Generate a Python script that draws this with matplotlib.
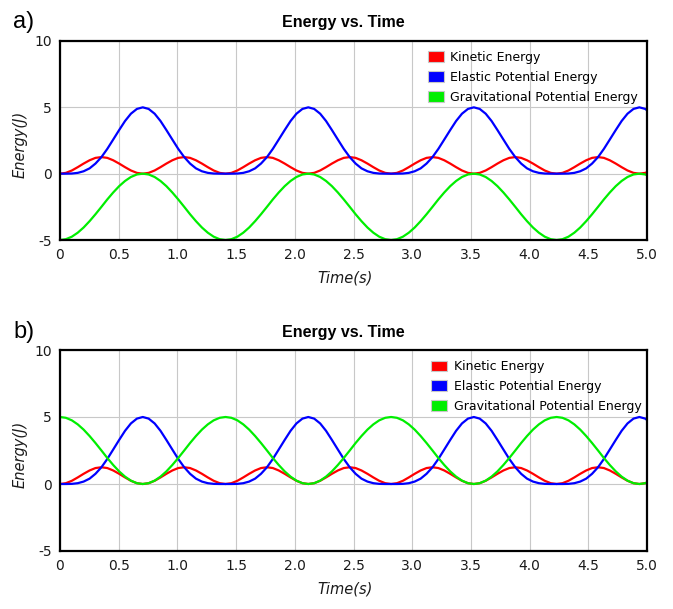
import matplotlib
matplotlib.use("Agg")
import matplotlib.pyplot as plt
from matplotlib.patches import Patch

# time samples (s)
time = [
    0.000, 0.050, 0.101, 0.151, 0.201, 0.252, 0.302, 0.353, 0.403, 0.453, 0.504, 0.554, 0.604, 0.655,
    0.705, 0.755, 0.806, 0.856, 0.906, 0.957, 1.007, 1.058, 1.108, 1.158, 1.209, 1.259, 1.309, 1.360,
    1.410, 1.460, 1.511, 1.561, 1.611, 1.662, 1.712, 1.763, 1.813, 1.863, 1.914, 1.964, 2.014, 2.065,
    2.115, 2.165, 2.216, 2.266, 2.316, 2.367, 2.417, 2.468, 2.518, 2.568, 2.619, 2.669, 2.719, 2.770,
    2.820, 2.870, 2.921, 2.971, 3.021, 3.072, 3.122, 3.173, 3.223, 3.273, 3.324, 3.374, 3.424, 3.475,
    3.525, 3.575, 3.626, 3.676, 3.726, 3.777, 3.827, 3.878, 3.928, 3.978, 4.029, 4.079, 4.129, 4.180,
    4.230, 4.280, 4.331, 4.381, 4.431, 4.482, 4.532, 4.583, 4.633, 4.683, 4.734, 4.784, 4.834, 4.885,
    4.935, 4.985, 5.036,
]

kinetic = [
    0.00, 0.06, 0.24, 0.49, 0.76, 1.01, 1.19, 1.25, 1.19, 1.01, 0.76, 0.49, 0.24, 0.06,
    0.00, 0.06, 0.24, 0.49, 0.76, 1.01, 1.19, 1.25, 1.19, 1.01, 0.76, 0.49, 0.24, 0.06,
    0.00, 0.06, 0.24, 0.49, 0.76, 1.01, 1.19, 1.25, 1.19, 1.01, 0.76, 0.49, 0.24, 0.06,
    0.00, 0.06, 0.24, 0.49, 0.76, 1.01, 1.19, 1.25, 1.19, 1.01, 0.76, 0.49, 0.24, 0.06,
    0.00, 0.06, 0.24, 0.49, 0.76, 1.01, 1.19, 1.25, 1.19, 1.01, 0.76, 0.49, 0.24, 0.06,
    0.00, 0.06, 0.24, 0.49, 0.76, 1.01, 1.19, 1.25, 1.19, 1.01, 0.76, 0.49, 0.24, 0.06,
    0.00, 0.06, 0.24, 0.49, 0.76, 1.01, 1.19, 1.25, 1.19, 1.01, 0.76, 0.49, 0.24, 0.06,
    0.00, 0.06, 0.24,
]

elastic = [
    0.00, 0.00, 0.01, 0.06, 0.18, 0.40, 0.76, 1.25, 1.87, 2.57, 3.29, 3.97, 4.52, 4.88,
    5.00, 4.88, 4.52, 3.97, 3.29, 2.57, 1.87, 1.25, 0.76, 0.40, 0.18, 0.06, 0.01, 0.00,
    0.00, 0.00, 0.01, 0.06, 0.18, 0.40, 0.76, 1.25, 1.87, 2.57, 3.29, 3.97, 4.52, 4.88,
    5.00, 4.88, 4.52, 3.97, 3.29, 2.57, 1.87, 1.25, 0.76, 0.40, 0.18, 0.06, 0.01, 0.00,
    0.00, 0.00, 0.01, 0.06, 0.18, 0.40, 0.76, 1.25, 1.87, 2.57, 3.29, 3.97, 4.52, 4.88,
    5.00, 4.88, 4.52, 3.97, 3.29, 2.57, 1.87, 1.25, 0.76, 0.40, 0.18, 0.06, 0.01, 0.00,
    0.00, 0.00, 0.01, 0.06, 0.18, 0.40, 0.76, 1.25, 1.87, 2.57, 3.29, 3.97, 4.52, 4.88,
    5.00, 4.88, 4.52,
]

# gravitational PE, chart a) (reference at top) and chart b) (reference at bottom)
grav_a = [
    -5.00, -4.94, -4.75, -4.45, -4.06, -3.58, -3.06, -2.50, -1.94, -1.42, -0.94, -0.55, -0.25, -0.06,
    0.00, -0.06, -0.25, -0.55, -0.94, -1.42, -1.94, -2.50, -3.06, -3.58, -4.06, -4.45, -4.75, -4.94,
    -5.00, -4.94, -4.75, -4.45, -4.06, -3.58, -3.06, -2.50, -1.94, -1.42, -0.94, -0.55, -0.25, -0.06,
    0.00, -0.06, -0.25, -0.55, -0.94, -1.42, -1.94, -2.50, -3.06, -3.58, -4.06, -4.45, -4.75, -4.94,
    -5.00, -4.94, -4.75, -4.45, -4.06, -3.58, -3.06, -2.50, -1.94, -1.42, -0.94, -0.55, -0.25, -0.06,
    0.00, -0.06, -0.25, -0.55, -0.94, -1.42, -1.94, -2.50, -3.06, -3.58, -4.06, -4.45, -4.75, -4.94,
    -5.00, -4.94, -4.75, -4.45, -4.06, -3.58, -3.06, -2.50, -1.94, -1.42, -0.94, -0.55, -0.25, -0.06,
    0.00, -0.06, -0.25,
]

grav_b = [
    5.00, 4.94, 4.75, 4.45, 4.06, 3.58, 3.06, 2.50, 1.94, 1.42, 0.94, 0.55, 0.25, 0.06,
    0.00, 0.06, 0.25, 0.55, 0.94, 1.42, 1.94, 2.50, 3.06, 3.58, 4.06, 4.45, 4.75, 4.94,
    5.00, 4.94, 4.75, 4.45, 4.06, 3.58, 3.06, 2.50, 1.94, 1.42, 0.94, 0.55, 0.25, 0.06,
    0.00, 0.06, 0.25, 0.55, 0.94, 1.42, 1.94, 2.50, 3.06, 3.58, 4.06, 4.45, 4.75, 4.94,
    5.00, 4.94, 4.75, 4.45, 4.06, 3.58, 3.06, 2.50, 1.94, 1.42, 0.94, 0.55, 0.25, 0.06,
    0.00, 0.06, 0.25, 0.55, 0.94, 1.42, 1.94, 2.50, 3.06, 3.58, 4.06, 4.45, 4.75, 4.94,
    5.00, 4.94, 4.75, 4.45, 4.06, 3.58, 3.06, 2.50, 1.94, 1.42, 0.94, 0.55, 0.25, 0.06,
    0.00, 0.06, 0.25,
]

xticks = [0, 0.5, 1.0, 1.5, 2.0, 2.5, 3.0, 3.5, 4.0, 4.5, 5.0]
xticklabels = ["0", "0.5", "1.0", "1.5", "2.0", "2.5", "3.0", "3.5", "4.0", "4.5", "5.0"]
yticks = [-5, 0, 5, 10]
names = ["Kinetic Energy", "Elastic Potential Energy", "Gravitational Potential Energy"]
colors = ["#ff0000", "#0000ff", "#00ee00"]

W, H = 673, 609
plt.rcParams["font.family"] = "DejaVu Sans"
plt.rcParams["axes.unicode_minus"] = False
fig = plt.figure(figsize=(W / 100, H / 100), dpi=100)


def makePanel(top, bottom, grav, tag, title_y, legend_x):
    ax = fig.add_axes([60 / W, 1 - bottom / H, 587 / W, (bottom - top) / H])
    for series, c in zip([kinetic, elastic, grav], colors):
        ax.plot(time, series, color=c, lw=1.6)
    ax.set_xlim(0, 5)
    ax.set_ylim(-5, 10)
    ax.set_xticks(xticks)
    ax.set_xticklabels(xticklabels)
    ax.set_yticks(yticks)
    ax.tick_params(length=0, pad=6, labelsize=10, labelcolor="#1a1a1a")
    ax.grid(True, color="#c8c8c8", lw=0.8)
    ax.set_axisbelow(True)
    for s in ax.spines.values():
        s.set_linewidth(1.6)
        s.set_color("black")
    ax.text(0.4855, -0.19, "Time(s)", transform=ax.transAxes, ha="center", va="center",
            fontsize=10.5, style="italic", color="#1a1a1a")
    ax.text(-0.068, 0.48, "Energy(J)", transform=ax.transAxes, ha="center", va="center",
            fontsize=10.5, style="italic", rotation=90, color="#1a1a1a")
    handles = [Patch(facecolor=c, edgecolor="#c8c8c8", lw=0.8) for c in colors]
    ax.legend(handles, names, loc="upper left", bbox_to_anchor=(legend_x, 0.95),
              frameon=False, fontsize=9, borderpad=0, borderaxespad=0,
              handlelength=1.3, handleheight=0.9, handletextpad=0.5, labelspacing=0.55)
    fig.text(343 / W, 1 - title_y / H, "Energy vs. Time", ha="center", va="center",
             fontsize=11.5, fontweight="bold", family="Liberation Sans")
    fig.text(13 / W, 1 - (title_y - 1) / H, tag, ha="left", va="center",
             fontsize=17, family="Liberation Sans")
    return ax


makePanel(41, 240, grav_a, "a)", 23, (428 - 60) / 587)
makePanel(350, 551, grav_b, "b)", 333, (431 - 60) / 587)

fig.savefig("out.png", dpi=100)
